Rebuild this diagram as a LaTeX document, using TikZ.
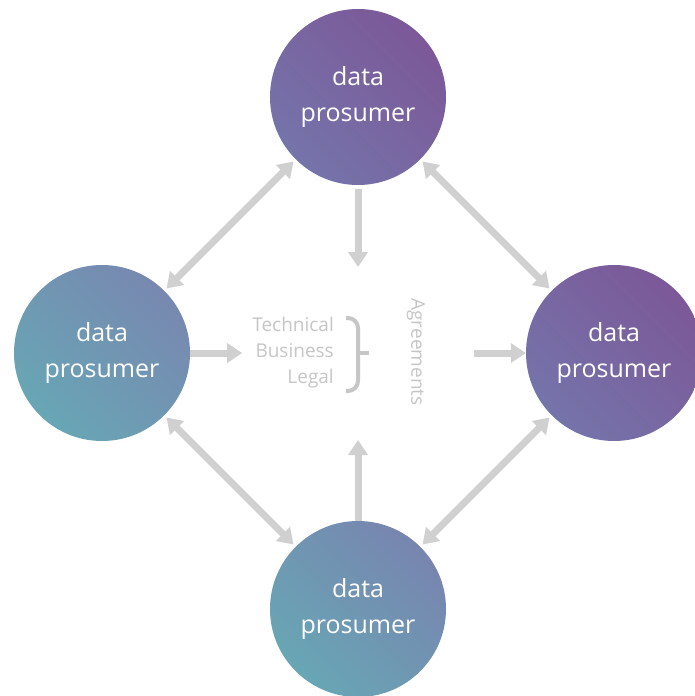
\documentclass[tikz,border=0pt]{standalone}
\usepackage{fontspec}
\setmainfont{Open Sans}
\usetikzlibrary{arrows.meta,positioning}
\definecolor{linkgray}{HTML}{D0D0D0}
\definecolor{termgray}{HTML}{C6C6C6}
\definecolor{tealdark}{HTML}{68A6B5}
\definecolor{tealmid}{HTML}{7888B0}
\definecolor{violetmid}{HTML}{7574AA}
\definecolor{violetdark}{HTML}{7C5898}

\begin{document}
\begin{tikzpicture}[x=1pt, y=-1pt,
    prosumer/.style={
        circle,
        minimum size=176pt,
        inner sep=0pt,
        align=center,
        text=white,
        font=\fontsize{25}{36}\selectfont
    },
    link/.style={{Triangle[width=19pt,length=15pt]}-{Triangle[width=19pt,length=15pt]},
        line width=7pt, draw=linkgray, shorten >=3pt, shorten <=3pt},
    feed/.style={-{Triangle[width=19pt,length=15pt]}, line width=7pt, draw=linkgray},
    terms/.style={text=termgray, font=\fontsize{19}{26}\selectfont, inner sep=0pt}
]
    \useasboundingbox[fill=white] (0,0) rectangle (694,696);

    % the four prosumers
    \node[prosumer, bottom color=violetmid, top color=violetdark, shading angle=-45]
        (ptop) at (358,97) {data\\prosumer};
    \node[prosumer, bottom color=tealdark, top color=tealmid, shading angle=-45]
        (pleft) at (102,353) {data\\prosumer};
    \node[prosumer, bottom color=violetmid, top color=violetdark, shading angle=-45]
        (pright) at (614,353) {data\\prosumer};
    \node[prosumer, bottom color=tealdark, top color=tealmid!85!violetmid, shading angle=-45]
        (pbottom) at (358,609) {data\\prosumer};

    % agreements in the middle
    \node[terms, align=right, anchor=east, inner xsep=10pt] (kinds) at (344,353)
        {Technical\\Business\\Legal};
    \draw[termgray, line width=4pt, rounded corners=10pt]
        (346,318) -| (358,353) |- (346,391);
    \draw[termgray, line width=4pt] (358,353) -- (369,353);
    \node[terms, rotate=-90] (agree) at (416,352) {Agreements};

    % connectors
    \coordinate (downtip) at (358,267);
    \coordinate (righttail) at (474,353);
    \coordinate (uptip) at (358,440);

    \draw[link] (pleft) -- (ptop);
    \draw[link] (ptop) -- (pright);
    \draw[link] (pleft) -- (pbottom);
    \draw[link] (pbottom) -- (pright);

    \draw[feed, shorten <=4pt] (ptop) -- (downtip);
    \draw[feed] (pleft) -- (kinds.west);
    \draw[feed] (righttail) -- (pright);
    \draw[feed] (pbottom) -- (uptip);
\end{tikzpicture}
\end{document}
